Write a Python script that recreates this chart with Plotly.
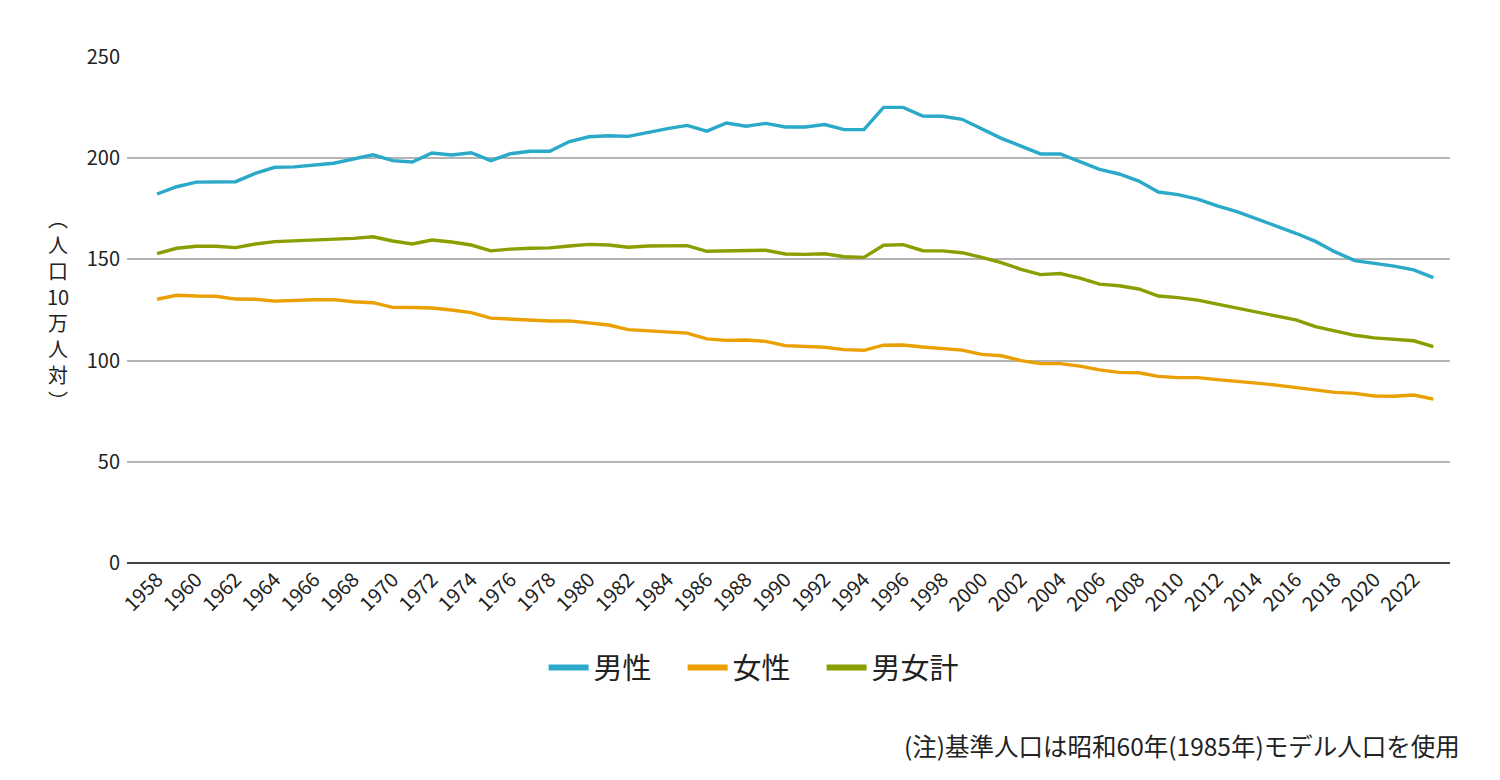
import plotly.graph_objects as go

# --- Data (人口10万人対) ---
years = list(range(1958, 2024))

male = [182.3, 185.9, 188.2, 188.4, 188.4, 192.5, 195.5, 195.7, 196.6, 197.5,
        199.6, 201.7, 198.8, 198.1, 202.6, 201.6, 202.7, 198.8, 202.2, 203.4,
        203.4, 208.2, 210.6, 211.1, 210.8, 212.8, 214.6, 216.2, 213.4, 217.4,
        215.8, 217.2, 215.4, 215.4, 216.6, 214.1, 214.1, 225.1, 225.1, 220.8,
        220.7, 219.2, 214.3, 209.8, 206.0, 202.1, 202.1, 198.3, 194.5, 192.2,
        188.7, 183.3, 182.0, 179.8, 176.4, 173.6, 170.1, 166.5, 162.9, 158.9,
        153.7, 149.4, 148.1, 146.7, 144.8, 141.0]

female = [130.3, 132.3, 131.9, 131.8, 130.4, 130.3, 129.4, 129.8, 130.1, 130.1,
          129.1, 128.6, 126.3, 126.2, 126.0, 125.0, 123.7, 121.0, 120.6, 119.9,
          119.6, 119.6, 118.6, 117.6, 115.3, 114.8, 114.5, 113.6, 110.7, 110.0,
          110.2, 109.5, 107.4, 106.9, 106.6, 105.4, 105.1, 107.6, 107.7, 106.7,
          105.9, 105.2, 103.1, 102.4, 100.0, 98.5, 98.5, 97.3, 95.4, 94.2,
          94.0, 92.2, 91.6, 91.6, 90.6, 89.9, 88.9, 87.9, 86.8, 85.6,
          84.3, 83.8, 82.5, 82.4, 83.0, 81.0]

total = [152.8, 155.5, 156.5, 156.5, 155.8, 157.6, 158.8, 159.1, 159.6, 159.9,
         160.4, 161.2, 159.1, 157.6, 159.6, 158.6, 157.1, 154.2, 155.1, 155.5,
         155.7, 156.6, 157.4, 157.1, 156.0, 156.6, 156.6, 156.8, 154.0, 154.2,
         154.3, 154.5, 152.7, 152.5, 152.8, 151.3, 151.0, 157.0, 157.3, 154.3,
         154.2, 153.3, 151.0, 148.4, 145.1, 142.5, 143.0, 140.7, 137.8, 137.0,
         135.4, 131.9, 131.1, 129.9, 127.9, 125.9, 123.7, 121.7, 120.1, 116.8,
         114.5, 112.5, 111.2, 110.5, 109.8, 106.9]

series_names = ["男性", "女性", "男女計"]
series_colors = ["#2aa9c9", "#e9a000", "#8b9e00"]
tick_years = list(range(1958, 2023, 2))

FONT = "Noto Sans CJK JP"

fig = go.Figure()
for name, vals, col in zip(series_names, [male, female, total], series_colors):
    fig.add_trace(go.Scatter(
        x=years, y=vals, mode="lines", name=name, legendgroup=name,
        line=dict(color=col, width=3.4), showlegend=False,
    ))
# legend entries with the thicker swatch
for name, col in zip(series_names, series_colors):
    fig.add_trace(go.Scatter(
        x=[None], y=[None], mode="lines", name=name, legendgroup=name,
        line=dict(color=col, width=6), showlegend=True,
    ))

# page has an 8px body margin, so the figure margins are reduced by 8
fig.update_layout(
    width=1500, height=780,
    margin=dict(l=119, r=58, t=49, b=225),
    paper_bgcolor="white", plot_bgcolor="white",
    font=dict(family=FONT, color="#222222"),
    showlegend=True,
    legend=dict(
        orientation="h", x=0.4725, xanchor="center", y=-0.207, yanchor="middle",
        font=dict(size=29, color="#222222"), itemwidth=40,
        entrywidth=84, entrywidthmode="pixels",
        traceorder="normal",
    ),
    xaxis=dict(
        range=[1956.47, 2023.85],
        tickmode="array", tickvals=tick_years,
        ticktext=[str(y) for y in tick_years],
        tickangle=-45, tickfont=dict(size=20, color="#222222"),
        showgrid=False, zeroline=False, showline=False, ticks="",
    ),
    yaxis=dict(
        range=[0, 250], tickvals=[0, 50, 100, 150, 200, 250],
        tickfont=dict(size=20, color="#222222"),
        showgrid=True, gridcolor="#b4b4b4", gridwidth=1.5,
        zeroline=True, zerolinecolor="#444444", zerolinewidth=2.2,
        showline=False, ticks="", ticklabelstandoff=6,
    ),
    annotations=[
        # vertical y-axis title
        dict(
            text="︵<br>人<br>口<br>10<br>万<br>人<br>対<br>︶",
            xref="paper", yref="paper", x=(58 - 127) / 1323, y=(563 - 309) / 506,
            xanchor="center", yanchor="middle", showarrow=False,
            font=dict(size=20, color="#222222", family=FONT), align="center",
        ),
        # footnote
        dict(
            text="(注)基準人口は昭和60年(1985年)モデル人口を使用",
            xref="paper", yref="paper", x=(1462 - 127) / 1323, y=(563 - 745) / 506,
            xanchor="right", yanchor="middle", showarrow=False,
            font=dict(size=24.5, color="#222222", family=FONT),
        ),
    ],
)

fig.write_html("out.html")
